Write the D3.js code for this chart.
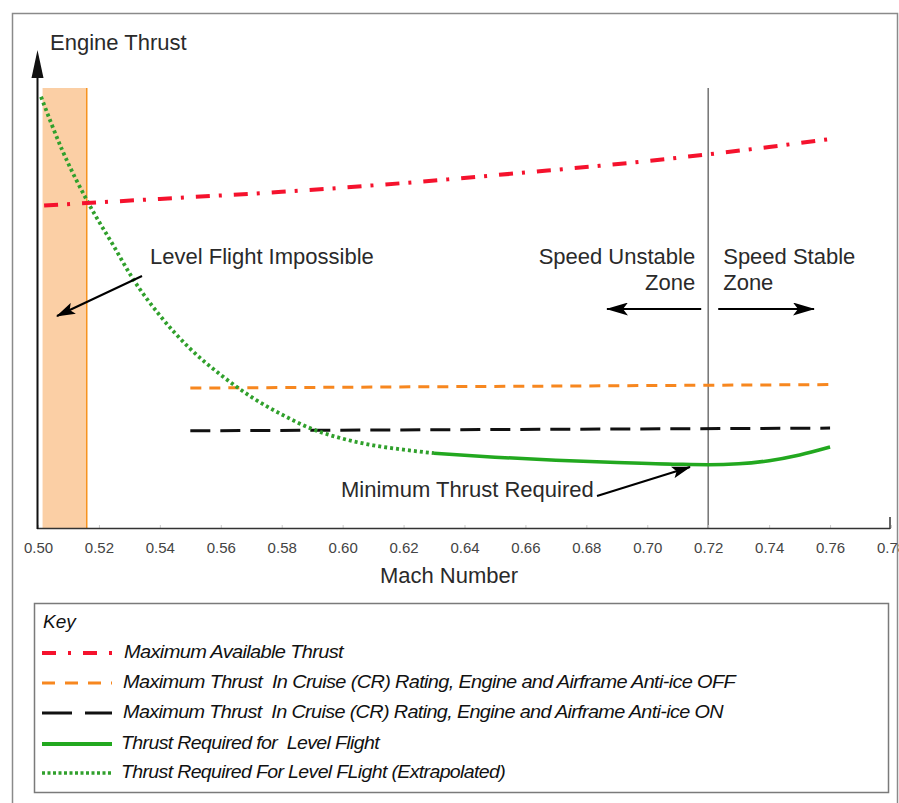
<!DOCTYPE html>
<html>
<head>
<meta charset="utf-8">
<script src="https://cdn.jsdelivr.net/npm/d3@7"></script>
<style>
  body { margin: 0; background: #fff; }
  svg { font-family: "Liberation Sans", Arial, sans-serif; }
  .pre { white-space: pre; }
</style>
</head>
<body>
<script>

// mach tick labels
var machTicks = [0.50, 0.52, 0.54, 0.56, 0.58, 0.60, 0.62, 0.64, 0.66, 0.68, 0.70, 0.72, 0.74, 0.76, 0.78];

// maximum available thrust (red dash-dot)
var maxAvailMach   = [0.502, 0.54, 0.58, 0.62, 0.66, 0.70, 0.74, 0.76];
var maxAvailThrust = [73.3, 74.8, 76.4, 78.4, 80.8, 83.4, 86.6, 88.4];

// cruise rating, anti-ice off / on
var crOffMach   = [0.55, 0.76];
var crOffThrust = [31.8, 32.6];
var crOnMach    = [0.55, 0.76];
var crOnThrust  = [22.1, 22.7];

// thrust required, extrapolated part (dotted)
var reqExtMach   = [0.501, 0.508, 0.5165, 0.525, 0.531, 0.54, 0.55, 0.56, 0.57, 0.58, 0.59, 0.60, 0.61, 0.62, 0.63];
var reqExtThrust = [98.0, 85.8, 73.9, 63.9, 56.8, 48.3, 40.7, 34.8, 29.8, 25.8, 22.5, 20.3, 18.8, 17.8, 17.0];

// thrust required for level flight (solid)
var reqMach   = [0.63, 0.65, 0.67, 0.69, 0.71, 0.72, 0.73, 0.74, 0.75, 0.76];
var reqThrust = [17.0, 16.1, 15.4, 14.9, 14.5, 14.4, 14.6, 15.3, 16.6, 18.4];

// level flight impossible band and speed stability boundary
var impossibleBand = [0.5015, 0.516];
var stabilityMach = 0.72;

var legendLabels = [
  "Maximum Available Thrust",
  "Maximum Thrust  In Cruise (CR) Rating, Engine and Airframe Anti-ice OFF",
  "Maximum Thrust  In Cruise (CR) Rating, Engine and Airframe Anti-ice ON",
  "Thrust Required for  Level Flight",
  "Thrust Required For Level FLight (Extrapolated)"
];

var width = 899, height = 803;

var svg = d3.select("body").append("svg")
    .attr("width", width)
    .attr("height", height);

// arrow heads
var defs = svg.append("defs");
defs.append("marker")
    .attr("id", "arrow")
    .attr("viewBox", "0 0 22 13")
    .attr("refX", 21).attr("refY", 6.5)
    .attr("markerWidth", 22).attr("markerHeight", 13)
    .attr("markerUnits", "userSpaceOnUse")
    .attr("orient", "auto")
  .append("path")
    .attr("d", "M0,0 L22,6.5 L0,13 L5,6.5 Z")
    .attr("fill", "#000");
defs.append("marker")
    .attr("id", "arrowS")
    .attr("viewBox", "0 0 19 12")
    .attr("refX", 18).attr("refY", 6)
    .attr("markerWidth", 19).attr("markerHeight", 12)
    .attr("markerUnits", "userSpaceOnUse")
    .attr("orient", "auto")
  .append("path")
    .attr("d", "M0,0 L19,6 L0,12 L4,6 Z")
    .attr("fill", "#000");

// outer frame
svg.append("rect")
    .attr("x", 12.5).attr("y", 13.5)
    .attr("width", 885).attr("height", 800)
    .attr("fill", "none")
    .attr("stroke", "#8a8a8a")
    .attr("stroke-width", 1.5);

var x = d3.scaleLinear().domain([0.50, 0.78]).range([38, 891]);
var y = d3.scaleLinear().domain([0, 100]).range([528, 88]);

function zip(a, b) { return a.map(function(d, i) { return [d, b[i]]; }); }

var line = d3.line()
    .x(function(d) { return x(d[0]); })
    .y(function(d) { return y(d[1]); })
    .curve(d3.curveMonotoneX);

// impossible band
svg.append("rect")
    .attr("x", x(impossibleBand[0]))
    .attr("y", y(100))
    .attr("width", x(impossibleBand[1]) - x(impossibleBand[0]))
    .attr("height", y(0) - y(100))
    .attr("fill", "#fbcfa5");
svg.append("line")
    .attr("x1", x(impossibleBand[1])).attr("x2", x(impossibleBand[1]))
    .attr("y1", y(100)).attr("y2", y(0))
    .attr("stroke", "#f7931e")
    .attr("stroke-width", 1.5);

// stability boundary
svg.append("line")
    .attr("x1", x(stabilityMach)).attr("x2", x(stabilityMach))
    .attr("y1", y(100)).attr("y2", y(0))
    .attr("stroke", "#7a7a7a")
    .attr("stroke-width", 1.6);

// x axis
var xAxis = d3.axisBottom(x)
    .tickValues(machTicks)
    .tickFormat(d3.format(".2f"))
    .tickSizeInner(-3)
    .tickSizeOuter(0)
    .tickPadding(14);

var gx = svg.append("g")
    .attr("transform", "translate(0," + y(0) + ")")
    .call(xAxis);
gx.select(".domain").remove();
gx.selectAll(".tick line").attr("stroke", "#ccc");
gx.selectAll(".tick text")
    .attr("font-size", 15)
    .attr("font-family", "Liberation Sans, Arial, sans-serif")
    .attr("fill", "#444");

svg.append("line")
    .attr("x1", 37).attr("x2", 890)
    .attr("y1", y(0) + 0.5).attr("y2", y(0) + 0.5)
    .attr("stroke", "#333").attr("stroke-width", 1.6);
svg.append("line")
    .attr("x1", 890).attr("x2", 890)
    .attr("y1", y(0) - 11).attr("y2", y(0) + 1)
    .attr("stroke", "#333").attr("stroke-width", 1.5);

// y axis with arrow
svg.append("line")
    .attr("x1", 37.5).attr("x2", 37.5)
    .attr("y1", y(0) + 1).attr("y2", 74)
    .attr("stroke", "#111").attr("stroke-width", 2);
svg.append("path")
    .attr("d", "M37.5,50 L43.5,78 L31.5,78 Z")
    .attr("fill", "#111");

// series
svg.append("path")
    .attr("d", line(zip(crOffMach, crOffThrust)))
    .attr("fill", "none")
    .attr("stroke", "#f7871f")
    .attr("stroke-width", 3)
    .attr("stroke-dasharray", "11,8");

svg.append("path")
    .attr("d", line(zip(crOnMach, crOnThrust)))
    .attr("fill", "none")
    .attr("stroke", "#111")
    .attr("stroke-width", 3)
    .attr("stroke-dasharray", "20,10");

svg.append("path")
    .attr("d", line(zip(reqExtMach, reqExtThrust)))
    .attr("fill", "none")
    .attr("stroke", "#30a02c")
    .attr("stroke-width", 3.8)
    .attr("stroke-dasharray", "3,3");

svg.append("path")
    .attr("d", line(zip(reqMach, reqThrust)))
    .attr("fill", "none")
    .attr("stroke", "#22a81f")
    .attr("stroke-width", 3.5);

svg.append("path")
    .attr("d", line(zip(maxAvailMach, maxAvailThrust)))
    .attr("fill", "none")
    .attr("stroke", "#f5122d")
    .attr("stroke-width", 4)
    .attr("stroke-dasharray", "14,9,3,12");

// labels
var labelColor = "#2a2a2a";
function label(txt, tx, ty, anchor) {
  svg.append("text")
      .attr("x", tx).attr("y", ty)
      .attr("font-size", 22)
      .attr("fill", labelColor)
      .attr("text-anchor", anchor || "start")
      .text(txt);
}
label("Engine Thrust", 50, 50);
label("Mach Number", 449, 583, "middle");
label("Level Flight Impossible", 150, 264);
label("Speed Unstable", x(stabilityMach) - 13, 264, "end");
label("Zone", x(stabilityMach) - 13, 290, "end");
label("Speed Stable", x(stabilityMach) + 15, 264);
label("Zone", x(stabilityMach) + 15, 290);
label("Minimum Thrust Required", 341, 497);

// annotation arrows
function arrow(x1, y1, x2, y2, m) {
  svg.append("line")
      .attr("x1", x1).attr("y1", y1)
      .attr("x2", x2).attr("y2", y2)
      .attr("stroke", "#000")
      .attr("stroke-width", 2.2)
      .attr("marker-end", "url(#" + m + ")");
}
arrow(x(stabilityMach) - 7, 309, 607, 309, "arrow");
arrow(x(stabilityMach) + 10, 309, 814, 309, "arrow");
arrow(142, 276, 57, 316, "arrowS");
arrow(597, 496, 690, 467, "arrowS");

// legend
var lg = svg.append("g");
lg.append("rect")
    .attr("x", 34.5).attr("y", 603.5)
    .attr("width", 854).attr("height", 189)
    .attr("fill", "#fff")
    .attr("stroke", "#7a7a7a")
    .attr("stroke-width", 1.5);
lg.append("text")
    .attr("x", 43).attr("y", 628)
    .attr("font-size", 19)
    .attr("font-style", "italic")
    .attr("fill", "#111")
    .text("Key");

var legendStyles = [
  { color: "#f5122d", w: 4,   dash: "14,12,3,12", y: 653 },
  { color: "#f7871f", w: 3,   dash: "13,10",      y: 683 },
  { color: "#111",    w: 3,   dash: "30,13",      y: 713 },
  { color: "#22a81f", w: 4,   dash: null,         y: 744 },
  { color: "#30a02c", w: 3.5, dash: "3,2.5",      y: 773 }
];
var legendText = [
  { x: 124, len: 219 },
  { x: 123, len: 612 },
  { x: 123, len: 600 },
  { x: 121, len: 258 },
  { x: 121, len: 384 }
];

legendLabels.forEach(function(t, i) {
  var s = legendStyles[i];
  lg.append("line")
      .attr("x1", 42).attr("x2", 112)
      .attr("y1", s.y).attr("y2", s.y)
      .attr("stroke", s.color)
      .attr("stroke-width", s.w)
      .attr("stroke-dasharray", s.dash);
  lg.append("text")
      .attr("class", "pre")
      .attr("x", legendText[i].x)
      .attr("y", s.y + 5)
      .attr("font-size", 18)
      .attr("font-style", "italic")
      .attr("fill", "#111")
      .attr("letter-spacing", -0.6)
      .attr("textLength", legendText[i].len)
      .attr("lengthAdjust", "spacingAndGlyphs")
      .text(t);
});

</script>
</body>
</html>
